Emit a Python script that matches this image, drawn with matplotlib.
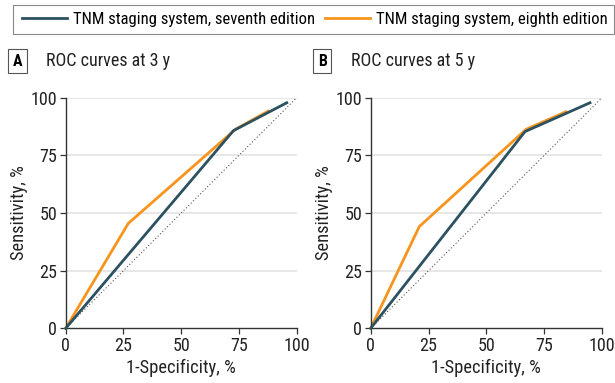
import matplotlib.pyplot as plt
from matplotlib import font_manager
from matplotlib.lines import Line2D
from matplotlib.patches import Rectangle

# look for a narrow / condensed sans installed on the system
narrow = None
for key in ("LiberationSansNarrow-Regular", "RobotoCondensed-Regular", "DejaVuSansCondensed.",
            "OpenSans_Condensed-Regular", "OpenSansCondensed"):
    hits = [f for f in font_manager.fontManager.ttflist if key.lower() in f.fname.lower()]
    if hits:
        narrow = hits[0]
        break

if narrow is not None:
    plt.rcParams["font.family"] = [narrow.name, "DejaVu Sans"]
    plt.rcParams["font.stretch"] = narrow.stretch
    SCALE = 1.0
else:
    plt.rcParams["font.family"] = ["Liberation Sans", "DejaVu Sans"]
    SCALE = 0.87

LEGEND_FS = 12 * SCALE
TITLE_FS = 13 * SCALE
TICK_FS = 13 * SCALE
LABEL_FS = 13.3 * SCALE

SEVENTH_COLOR = "#2c5261"
EIGHTH_COLOR = "#f7941d"

SERIES_LABELS = ["TNM staging system, seventh edition", "TNM staging system, eighth edition"]
PANEL_LETTERS = ["A", "B"]
PANEL_TITLES = ["ROC curves at 3 y", "ROC curves at 5 y"]
TICKS = [0, 25, 50, 75, 100]

# 3-year ROC (1-specificity, sensitivity), in %
fpr_3y_7th = [0, 72.6, 95.7]
tpr_3y_7th = [0, 85.7, 97.8]
fpr_3y_8th = [0, 27.1, 73.5, 87.7]
tpr_3y_8th = [0, 45.5, 86.3, 94.2]

# 5-year ROC
fpr_5y_7th = [0, 66.7, 94.8]
tpr_5y_7th = [0, 85.3, 97.8]
fpr_5y_8th = [0, 21.0, 67.2, 84.4]
tpr_5y_8th = [0, 44.1, 86.3, 93.9]

fig = plt.figure(figsize=(6.15, 3.83), dpi=100)

# legend box on top
fig.patches.append(Rectangle((12.5 / 615, 1 - 34 / 383), 601 / 615, 29 / 383,
                             transform=fig.transFigure, fill=False,
                             edgecolor="#8a8a8a", linewidth=0.8))
handles = [Line2D([], [], color=SEVENTH_COLOR, lw=2),
           Line2D([], [], color=EIGHTH_COLOR, lw=2)]
fig.legend(handles, SERIES_LABELS, loc="center", bbox_to_anchor=(315 / 615, 1 - 19.5 / 383),
           ncol=2, frameon=False, fontsize=LEGEND_FS, handlelength=2.7, handletextpad=0.36,
           columnspacing=0.6, borderpad=0, borderaxespad=0)

axes_boxes = [(65.7, 296.7), (370.7, 602)]
data = [(fpr_3y_7th, tpr_3y_7th, fpr_3y_8th, tpr_3y_8th),
        (fpr_5y_7th, tpr_5y_7th, fpr_5y_8th, tpr_5y_8th)]

for (x0, x1), letter, title, (f7, t7, f8, t8) in zip(axes_boxes, PANEL_LETTERS, PANEL_TITLES, data):
    ax = fig.add_axes([x0 / 615, 1 - 328.3 / 383, (x1 - x0) / 615, (328.3 - 97.7) / 383])
    ax.set_xlim(0, 100)
    ax.set_ylim(0, 100)
    for y in TICKS[1:]:
        ax.axhline(y, color="#e3e3e3", lw=1.2, zorder=0)
    ax.plot([0, 100], [0, 100], color="#555555", lw=0.8, ls=(0, (1, 2)), zorder=1)
    ax.plot(f7, t7, color=SEVENTH_COLOR, lw=2, zorder=3, clip_on=False)
    ax.plot(f8, t8, color=EIGHTH_COLOR, lw=2, zorder=2, clip_on=False)

    ax.set_xticks(TICKS)
    ax.set_yticks(TICKS)
    ax.tick_params(labelsize=TICK_FS, length=4, width=0.9, color="#333333", labelcolor="#222222", pad=2)
    for side in ("top", "right"):
        ax.spines[side].set_visible(False)
    for side in ("left", "bottom"):
        ax.spines[side].set_color("#333333")
        ax.spines[side].set_linewidth(1.0)
    ax.set_xlabel("1-Specificity, %", fontsize=LABEL_FS, color="#222222", labelpad=3)
    ax.set_ylabel("Sensitivity, %", fontsize=LABEL_FS, color="#222222", labelpad=2)

    lx = (x0 - 53) / 615
    fig.text(lx, 1 - 61 / 383, letter, fontsize=TITLE_FS - 1.5, fontweight="bold", va="center", ha="left",
             bbox=dict(boxstyle="square,pad=0.3", fc="white", ec="#555555", lw=0.8))
    fig.text(lx + 33.5 / 615, 1 - 61 / 383, title, fontsize=TITLE_FS, va="center", ha="left", color="#222222")

fig.savefig("out.png", dpi=100)
